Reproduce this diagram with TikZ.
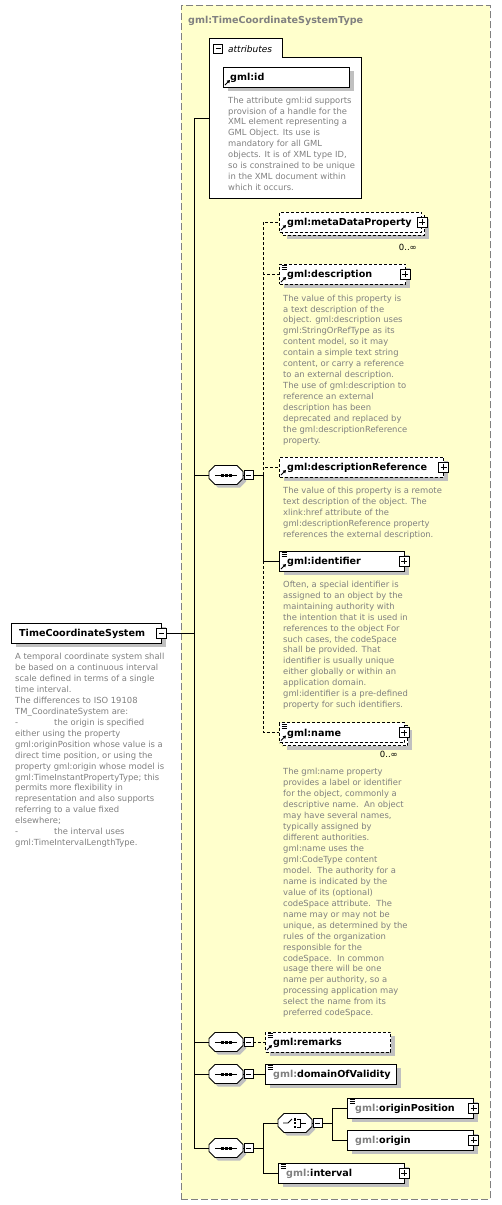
\documentclass[tikz,border=0pt]{standalone}
\usepackage{fontspec}
\setmainfont{DejaVu Sans}
\usetikzlibrary{arrows.meta,shadows}
\definecolor{bgyellow}{RGB}{255,255,204}
\definecolor{dashgray}{RGB}{128,128,128}
\definecolor{shadowgray}{RGB}{192,192,192}
\definecolor{descgray}{RGB}{128,128,128}
\definecolor{gmlgray}{RGB}{128,128,128}
\tikzset{
  shad/.style={drop shadow={shadow xshift=4pt,shadow yshift=-4pt,fill=shadowgray,opacity=1}},
  elembox/.style={rectangle,draw=black,line width=1pt,fill=white,minimum height=20pt,inner sep=0pt},
  optbox/.style={dash pattern=on 3pt off 2pt},
  nametext/.style={font=\fontsize{9.6}{11}\selectfont\bfseries,inner sep=0pt,text=black},
  desc/.style={font=\fontsize{8.4}{10.95}\selectfont,text=descgray,align=left,inner sep=0pt,anchor=north west},
  conn/.style={draw=black,line width=0.9pt},
  optconn/.style={conn,dash pattern=on 3pt off 2pt},
  smallbox/.style={rectangle,draw=black,line width=0.8pt,fill=white,minimum size=9pt,inner sep=0pt},
  minusbox/.style={smallbox,path picture={\draw[line width=0.8pt] ([xshift=-2.5pt]path picture bounding box.center) -- ([xshift=2.5pt]path picture bounding box.center);}},
  plusbox/.style={smallbox,minimum size=10pt,path picture={\draw[line width=0.8pt] ([xshift=-3pt]path picture bounding box.center) -- ([xshift=3pt]path picture bounding box.center) ([yshift=-3pt]path picture bounding box.center) -- ([yshift=3pt]path picture bounding box.center);}},
  occ/.style={font=\fontsize{8.5}{10}\selectfont,inner sep=0pt,anchor=base east}
}
\newcommand\compbase[3]{%
\begin{scope}[shift={(#2,#3)}]
  \fill[shadowgray] (9,-6.5) -- (31,-6.5) -- (37,-0.5) -- (37,6.5) -- (31,12.5) -- (9,12.5) -- (3,6.5) -- (3,-0.5) -- cycle;
  \draw[line width=0.9pt,fill=white] (6,-9.5) -- (28,-9.5) -- (34,-3.5) -- (34,3.5) -- (28,9.5) -- (6,9.5) -- (0,3.5) -- (0,-3.5) -- cycle;
  \node[inner sep=0pt,minimum width=34pt,minimum height=19pt] (#1) at (17,0) {};
  \node[minusbox] (#1-m) at (39.5,0) {};
  \draw[conn] (#1.east) -- (#1-m.west);
\end{scope}}
\newcommand\seqicon[2]{%
\begin{scope}[shift={(#1,#2)}]
  \draw[line width=0.9pt] (6,0) -- (28,0);
  \fill (11.5,-1.5) rectangle (14.5,1.5);
  \fill (15.5,-1.5) rectangle (18.5,1.5);
  \fill (19.5,-1.5) rectangle (22.5,1.5);
\end{scope}}
\newcommand\choiceicon[2]{%
\begin{scope}[shift={(#1,#2)}]
  \draw[line width=0.9pt] (5,0) -- (10,0) -- (14,-4);
  \fill (15.5,-5) rectangle (18,-2.5);
  \fill (15.5,-1.25) rectangle (18,1.25);
  \fill (15.5,2.5) rectangle (18,5);
  \draw[line width=0.9pt] (19,-4) -- (22,-4) -- (22,4) -- (19,4) (22,0) -- (28,0);
\end{scope}}
\newcommand\iconlines[1]{\draw[line width=0.8pt] ([xshift=2.5pt,yshift=-2pt]#1.north west) -- ++(5,0) ([xshift=2.5pt,yshift=-4pt]#1.north west) -- ++(5,0) ([xshift=2.5pt,yshift=-6pt]#1.north west) -- ++(5,0);}
\newcommand\iconarrow[1]{\draw[line width=1pt,-{Triangle[length=3pt,width=3.5pt]}] ([xshift=2pt,yshift=2.5pt]#1.south west) -- ++(5,-5);}
\begin{document}
\begin{tikzpicture}[x=1pt,y=-1pt]
\useasboundingbox (0,0) rectangle (501,1205);
\fill[white] (0,0) rectangle (501,1205);
% type box
\node[draw=dashgray,dash pattern=on 7pt off 3pt,line width=0.9pt,fill=bgyellow,minimum width=309pt,minimum height=1194pt,anchor=north west,inner sep=0pt] (typebox) at (181,5) {};
\node[nametext,text=gmlgray,anchor=base west] (title) at (188,23) {gml:TimeCoordinateSystemType};
% attributes
\draw[line width=0.9pt,fill=white] (209,198) -- (209,38) -- (282,38) -- (282,57) -- (361,57) -- (361,198) -- cycle;
\coordinate (attrleft) at (209,118);
\node[minusbox] (attr-m) at (218,48.5) {};
\node[font=\fontsize{9}{11}\selectfont\itshape,inner sep=0pt,anchor=base west] (attr-t) at (228,52) {attributes};
\node[elembox,shad,minimum width=126pt,anchor=west] (id) at (223,77) {};
\node[nametext,anchor=base west] (id-t) at (230,80.6) {gml:id};
\iconarrow{id}
\node[desc] (id-d) at (228,96.5) {The attribute gml:id supports\\provision of a handle for the\\XML element representing a\\GML Object. Its use is\\mandatory for all GML\\objects. It is of XML type ID,\\so is constrained to be unique\\in the XML document within\\which it occurs.};
% root element
\node[elembox,shad,minimum width=150pt,anchor=west] (tcs) at (11,633) {};
\node[nametext,anchor=base west] (tcs-t) at (19,636.6) {TimeCoordinateSystem};
\node[minusbox,minimum size=10pt] (tcs-m) at (161.5,633) {};
\node[desc] (tcs-d) at (15,653) {A temporal coordinate system shall\\be based on a continuous interval\\scale defined in terms of a single\\time interval.\\The differences to ISO 19108\\TM\_CoordinateSystem are:\\-\hspace*{36pt}the origin is specified\\either using the property\\gml:originPosition whose value is a\\direct time position, or using the\\property gml:origin whose model is\\gml:TimeInstantPropertyType; this\\permits more flexibility in\\representation and also supports\\referring to a value fixed\\elsewhere;\\-\hspace*{36pt}the interval uses\\gml:TimeIntervalLengthType.};
% trunk
\coordinate (trunktop) at (194,118);
\coordinate (trunkbot) at (194,1148);
\draw[conn] (trunktop) -- (trunkbot);
\draw[conn] (trunktop) -- (attrleft);
\draw[conn] (tcs-m.east) -- (tcs-m.east -| trunktop);
% compositors
\compbase{seq1}{209}{475}\seqicon{209}{475}
\compbase{seq2}{209}{1042}\seqicon{209}{1042}
\compbase{seq3}{209}{1074}\seqicon{209}{1074}
\compbase{seq4}{209}{1148}\seqicon{209}{1148}
\compbase{ch}{278}{1123}\choiceicon{278}{1123}
\draw[conn] (seq1.west -| trunktop) -- (seq1.west);
\draw[conn] (seq2.west -| trunktop) -- (seq2.west);
\draw[conn] (seq3.west -| trunktop) -- (seq3.west);
\draw[conn] (trunkbot) -- (seq4.west);
% elements of seq1
\node[elembox,optbox,shad,minimum width=142pt,anchor=west] (meta-b) at (282,225) {};
\node[elembox,optbox,minimum width=142pt,anchor=west] (meta) at (279,222) {};
\node[nametext,anchor=base west] (meta-t) at (287,225.6) {gml:metaDataProperty};
\iconarrow{meta}
\node[plusbox] (meta-p) at (meta.east) {};
\node[occ] (meta-o) at (417,250) {0..∞};

\node[elembox,optbox,shad,minimum width=126pt,anchor=west] (desc) at (279,274) {};
\node[nametext,anchor=base west] (desc-t) at (287,277.6) {gml:description};
\iconlines{desc}\iconarrow{desc}
\node[plusbox] (desc-p) at ([xshift=-1pt]desc.east) {};
\node[desc] (desc-d) at (283,294.5) {The value of this property is\\a text description of the\\object. gml:description uses\\gml:StringOrRefType as its\\content model, so it may\\contain a simple text string\\content, or carry a reference\\to an external description.\\The use of gml:description to\\reference an external\\description has been\\deprecated and replaced by\\the gml:descriptionReference\\property.};

\node[elembox,optbox,shad,minimum width=164pt,anchor=west] (dref) at (279,467) {};
\node[nametext,anchor=base west] (dref-t) at (287,470.6) {gml:descriptionReference};
\iconarrow{dref}
\node[plusbox] (dref-p) at ([xshift=-0.5pt]dref.east) {};
\node[desc] (dref-d) at (283,486.7) {The value of this property is a remote\\text description of the object. The\\xlink:href attribute of the\\gml:descriptionReference property\\references the external description.};

\node[elembox,shad,minimum width=125pt,anchor=west] (ident) at (279,561) {};
\node[nametext,anchor=base west] (ident-t) at (287,564.6) {gml:identifier};
\iconlines{ident}\iconarrow{ident}
\node[plusbox] (ident-p) at ([xshift=-1pt]ident.east) {};
\node[desc] (ident-d) at (283,580.7) {Often, a special identifier is\\assigned to an object by the\\maintaining authority with\\the intention that it is used in\\references to the object For\\such cases, the codeSpace\\shall be provided. That\\identifier is usually unique\\either globally or within an\\application domain.\\gml:identifier is a pre-defined\\property for such identifiers.};

\node[elembox,optbox,shad,minimum width=125pt,anchor=west] (name-b) at (282,735.5) {};
\node[elembox,optbox,minimum width=125pt,anchor=west] (name) at (279,732.5) {};
\node[nametext,anchor=base west] (name-t) at (287,736.1) {gml:name};
\iconlines{name}\iconarrow{name}
\node[plusbox] (name-p) at ([xshift=-1pt]name.east) {};
\node[occ] (name-o) at (398,757.5) {0..∞};
\node[desc] (name-d) at (283,768.3) {The gml:name property\\provides a label or identifier\\for the object, commonly a\\descriptive name.\ \ An object\\may have several names,\\typically assigned by\\different authorities.\\gml:name uses the\\gml:CodeType content\\model.\ \ The authority for a\\name is indicated by the\\value of its (optional)\\codeSpace attribute.\ \ The\\name may or may not be\\unique, as determined by the\\rules of the organization\\responsible for the\\codeSpace.\ \ In common\\usage there will be one\\name per authority, so a\\processing application may\\select the name from its\\preferred codeSpace.};

\coordinate (b1) at (263,475);
\draw[conn] (seq1-m.east) -- (b1);
\draw[optconn] (b1) |- (meta.west);
\draw[optconn] (b1) |- (desc.west);
\draw[optconn] (b1) |- (dref.west);
\draw[conn] (b1) |- (ident.west);
\draw[optconn] (b1 |- ident.west) |- (name.west);

% remarks, domainOfValidity
\node[elembox,optbox,shad,minimum width=125pt,anchor=west] (remarks) at (265,1042) {};
\node[nametext,anchor=base west] (remarks-t) at (273,1045.6) {gml:remarks};
\iconlines{remarks}\iconarrow{remarks}
\draw[optconn] (seq2-m.east) -- (remarks.west);

\node[elembox,shad,minimum width=131pt,anchor=west] (dov) at (265,1074) {};
\node[nametext,anchor=base west] (dov-t) at (273,1077.6) {\textcolor{gmlgray}{gml:}domainOfValidity};
\iconlines{dov}
\draw[conn] (seq3-m.east) -- (dov.west);

% last sequence
\node[elembox,shad,minimum width=126pt,anchor=west] (opos) at (347,1108) {};
\node[nametext,anchor=base west] (opos-t) at (355,1111.6) {\textcolor{gmlgray}{gml:}originPosition};
\iconlines{opos}
\node[plusbox] (opos-p) at ([xshift=-0.5pt]opos.east) {};

\node[elembox,shad,minimum width=126pt,anchor=west] (origin) at (347,1140) {};
\node[nametext,anchor=base west] (origin-t) at (355,1143.6) {\textcolor{gmlgray}{gml:}origin};
\node[plusbox] (origin-p) at ([xshift=-0.5pt]origin.east) {};

\node[elembox,shad,minimum width=126pt,anchor=west] (interval) at (278,1173) {};
\node[nametext,anchor=base west] (interval-t) at (286,1176.6) {\textcolor{gmlgray}{gml:}interval};
\iconlines{interval}
\node[plusbox] (interval-p) at ([xshift=-1pt]interval.east) {};

\coordinate (b4) at (263,1148);
\draw[conn] (seq4-m.east) -- (b4);
\draw[conn] (b4) |- (ch.west);
\draw[conn] (b4) |- (interval.west);
\coordinate (b5) at (332,1123);
\draw[conn] (ch-m.east) -- (b5);
\draw[conn] (b5) |- (opos.west);
\draw[conn] (b5) |- (origin.west);
\end{tikzpicture}
\end{document}
